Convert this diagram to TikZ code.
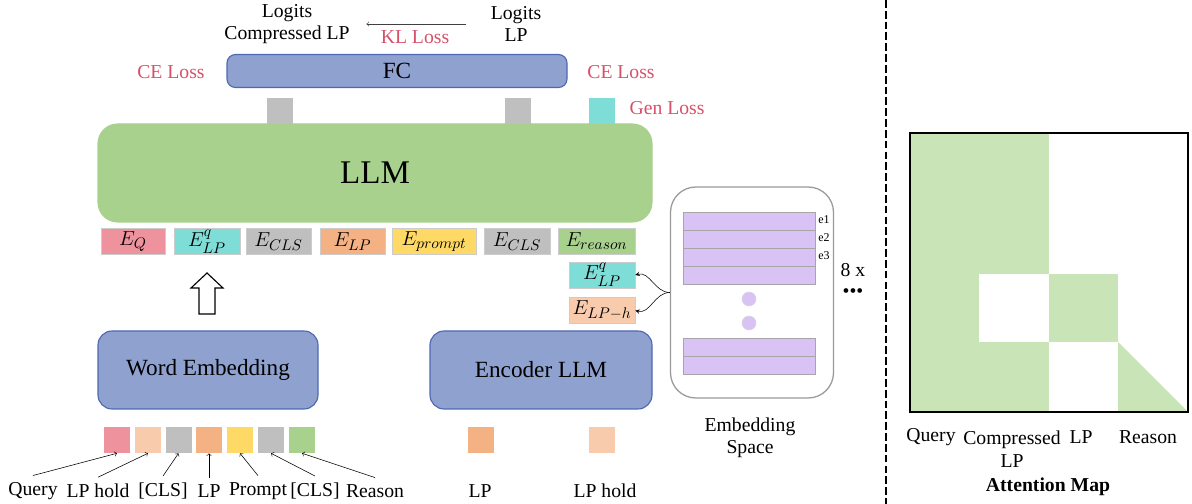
\documentclass[tikz,border=0pt]{standalone}
\usepackage{amsmath}
\usepackage{fontspec}
\setmainfont{Liberation Serif}
\usepackage{tikz}
\usetikzlibrary{arrows,positioning}

\definecolor{fcblue}{HTML}{8FA1CF}
\definecolor{fcborder}{HTML}{4E68B2}
\definecolor{llmgreen}{HTML}{A9D18E}
\definecolor{tokpink}{HTML}{EE929E}
\definecolor{tokcyan}{HTML}{7FDDD8}
\definecolor{tokgray}{HTML}{BFBFBF}
\definecolor{tokorange}{HTML}{F4B183}
\definecolor{tokyellow}{HTML}{FFD966}
\definecolor{tokpeach}{HTML}{F8CBAD}
\definecolor{lossred}{HTML}{D6506A}
\definecolor{embpurple}{HTML}{D9C2F4}
\definecolor{attngreen}{HTML}{C9E4B6}

\begin{document}
\fontsize{14}{16}\selectfont
\begin{tikzpicture}[x=0.025cm, y=-0.025cm, >=to]
    \def\px{0.025cm}
    \tikzstyle{block}=[draw=fcborder, fill=fcblue, line width=0.8pt, inner sep=0pt, font=\fontsize{16.5}{18}\selectfont]
    \tikzstyle{token}=[draw=black!20, line width=0.4pt, minimum height=26*\px, inner sep=0pt, font=\fontsize{15}{17}\selectfont]
    \tikzstyle{chip}=[minimum width=26*\px, minimum height=26*\px, inner sep=0pt]
    \tikzstyle{loss}=[text=lossred]
    \tikzstyle{row}=[draw=black!35, fill=embpurple, minimum width=132*\px, minimum height=18*\px, inner sep=0pt]
    \tikzstyle{annot}=[align=center]
    \tikzstyle{elab}=[font=\fontsize{8.5}{9}\selectfont, inner sep=0pt]
    \useasboundingbox (0,0) rectangle (1192,504);

    % Draw the output head and the losses
    \node[block, rounded corners=6pt, minimum width=340*\px, minimum height=33*\px] (fc) at (397,71) {FC};
    \node[annot] (logc) at (287,24) {Logits\\Compressed LP};
    \node[annot] (loglp) at (516,24) {Logits\\LP};
    \draw[->, black!75, shorten <=18*\px, shorten >=10*\px] (loglp.west) -- (logc.east);
    \node[loss] (kl) at (415,37) {KL Loss};
    \node[loss] (cel) at (171,72) {CE Loss};
    \node[loss] (cer) at (621,72) {CE Loss};
    \node[loss] (gen) at (667,108) {Gen Loss};

    % Draw the LLM and its outputs
    \node[block, draw=llmgreen, fill=llmgreen, rounded corners=14pt, minimum width=554*\px, minimum height=98*\px, font=\fontsize{23.5}{26}\selectfont] (llm) at (375,173) {LLM};
    \node[chip, fill=tokgray] (outc) at (280,111.5) {};
    \node[chip, fill=tokgray] (outlp) at (518,111.5) {};
    \node[chip, fill=tokcyan] (outgen) at (602,111.5) {};

    % Draw the input embeddings of the LLM
    \foreach \name/\x/\w/\col/\lab in {eq/133/64/tokpink/{E_{Q}}, elpq/207/66/tokcyan/{E_{LP}^{q}}, ecls1/278.5/65/tokgray/{E_{CLS}}, elp/352.5/65/tokorange/{E_{LP}}, eprompt/434/84/tokyellow/{E_{prompt}}, ecls2/517/66/tokgray/{E_{CLS}}, ereason/596.5/77/llmgreen/{E_{reason}}}
        \node[token, fill=\col, minimum width=\w*\px] (\name) at (\x,241.5) {$\lab$};
    \node[token, fill=tokcyan, minimum width=66*\px] (genq) at (602,275) {$E_{LP}^{q}$};
    \node[token, fill=tokpeach, minimum width=66*\px] (genh) at (602,310.5) {$E_{LP-h}$};

    % Hollow arrow from the word embedding
    \draw[fill=white, line width=0.8pt] (199,314) -- (199,288) -- (191,288) -- (207,273)
        -- (223,288) -- (215,288) -- (215,314) -- cycle;

    % Draw the encoders
    \node[block, rounded corners=10pt, minimum width=220*\px, minimum height=78*\px] (wemb) at (208,370) {Word Embedding};
    \node[block, rounded corners=10pt, minimum width=222*\px, minimum height=78*\px] (enc) at (541,370) {Encoder LLM};

    % Draw the embedding space
    \node[draw=black!40, line width=0.9pt, rounded corners=18pt, minimum width=163*\px, minimum height=211*\px] (emb) at (752,292.5) {};
    \foreach \i/\y in {1/221,2/239,3/257,4/275}
        \node[row] (r\i) at (749,\y) {};
    \foreach \i/\y in {1/347,2/365.5}
        \node[row] (rb\i) at (749,\y) {};
    \foreach \i in {1,2,3}
        \node[elab, right=2pt of r\i, yshift=1pt] {e\i};
    \node[circle, fill=embpurple, draw=black!15, minimum size=14*\px, inner sep=0pt] (dot1) at (749,299) {};
    \node[circle, fill=embpurple, draw=black!15, minimum size=14*\px, inner sep=0pt] (dot2) at (749,323) {};
    \node (times) at (853,270) {8 x};
    \node (more) at (853,293) {\textbullet\textbullet\textbullet};
    \node[annot] (embl) at (750,438) {Embedding\\Space};
    \draw[-stealth] (emb.west) to[out=180, in=15] (genq.east);
    \draw[-stealth] (emb.west) to[out=180, in=-15] (genh.east);

    % Draw the input tokens
    \foreach \name/\x/\col in {sq/117/tokpink, sh/148/tokpeach, sc/178.5/tokgray, sl/209/tokorange, sp/240/tokyellow, sd/271/tokgray, sr/302/llmgreen, tl/481/tokorange, th/602/tokpeach}
        \node[chip, fill=\col] (\name) at (\x,440) {};
    \foreach \name/\x/\lab in {sq/33/Query, sh/98/LP hold, sc/163/{[CLS]}, sl/209/LP, sp/258/Prompt, sd/315/{[CLS]}, sr/375/Reason, tl/480/LP, th/605/LP hold}
        \node (l\name) at (\x,491) {\lab};
    \foreach \name in {sq,sh,sc,sl,sp,sd,sr}
        \draw[->] (l\name.north) -- (\name.south);

    % Separator
    \coordinate (septop) at (886,0);
    \coordinate (sepbot) at (886,504);
    \draw[line width=1.4pt, dash pattern=on 5.5pt off 2.2pt] (septop) -- (sepbot);

    % Draw the attention map
    \fill[attngreen] (910,133) rectangle (1049,412);
    \fill[white] (979,274) rectangle (1049,342);
    \fill[attngreen] (1049,274) rectangle (1118,342);
    \fill[attngreen] (1118,342) -- (1188,412) -- (1118,412) -- cycle;
    \draw[line width=0.8pt] (910,133) rectangle (1188,412);
    \node (aq) at (931,437) {Query};
    \node[annot, anchor=north] (ac) at (1012,424) {Compressed\\LP};
    \node (alp) at (1081,437) {LP};
    \node (ar) at (1148,437) {Reason};
    \node[font=\bfseries] (atitle) at (1048,487) {Attention Map};
\end{tikzpicture}
\end{document}
